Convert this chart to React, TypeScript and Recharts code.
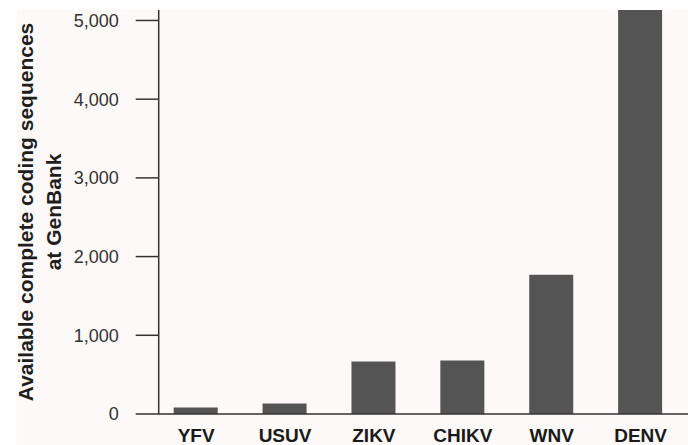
import { BarChart, Bar, XAxis, YAxis } from 'recharts';

const viruses = ['YFV', 'USUV', 'ZIKV', 'CHIKV', 'WNV', 'DENV'];
const sequenceCounts = [81, 132, 667, 679, 1768, 5400];
const yTicks = [0, 1000, 2000, 3000, 4000, 5000];
const yLabelLines = ['Available complete coding sequences', 'at GenBank'];

const data = viruses.map((name, i) => ({ name, count: sequenceCounts[i] }));

const fmt = (v: number) => v.toLocaleString('en-US');

function YLabel({ viewBox }: any) {
  const cy = viewBox.y + viewBox.height / 2;
  return (
    <g>
      {yLabelLines.map((line, i) => {
        const x = 33 + i * 28;
        return (
          <text
            key={line}
            x={x}
            y={cy}
            transform={`rotate(-90, ${x}, ${cy})`}
            textAnchor="middle"
            fontFamily="'Liberation Sans', Arial, sans-serif"
            fontWeight="bold"
            fontSize={21}
            fill="#1e1e1e"
          >
            {line}
          </text>
        );
      })}
    </g>
  );
}

export default function App() {
  return (
    <div style={{ position: 'absolute', left: 0, top: 0, width: 688, height: 445, background: '#fff' }}>
      <div style={{ position: 'absolute', left: 17, top: 10, right: 0, bottom: 0, background: '#fcf9f8' }} />
      <div style={{ position: 'absolute', left: 0, top: 0 }}>
        <BarChart width={688} height={445} data={data} margin={{ top: 10, right: 0, bottom: 0, left: 0 }}>
          <XAxis
            dataKey="name"
            height={31}
            padding={{ left: -7, right: 3 }}
            tickLine={false}
            tickSize={0}
            tickMargin={15}
            axisLine={{ stroke: '#333', strokeWidth: 1.5 }}
            tick={{ fontSize: 19, fontWeight: 'bold', fill: '#1a1a1a', fontFamily: "'Liberation Sans', Arial, sans-serif" }}
          />
          <YAxis
            width={158.7}
            domain={[0, 5133]}
            allowDataOverflow
            ticks={yTicks}
            tickFormatter={fmt}
            tickSize={23}
            tickMargin={17}
            tickLine={{ stroke: '#333', strokeWidth: 1.5 }}
            axisLine={{ stroke: '#333', strokeWidth: 1.5 }}
            tick={{ fontSize: 18, fill: '#333', fontFamily: "'Liberation Sans', Arial, sans-serif" }}
            label={<YLabel />}
          />
          <Bar dataKey="count" fill="#545454" barSize={44} isAnimationActive={false} />
        </BarChart>
      </div>
    </div>
  );
}
